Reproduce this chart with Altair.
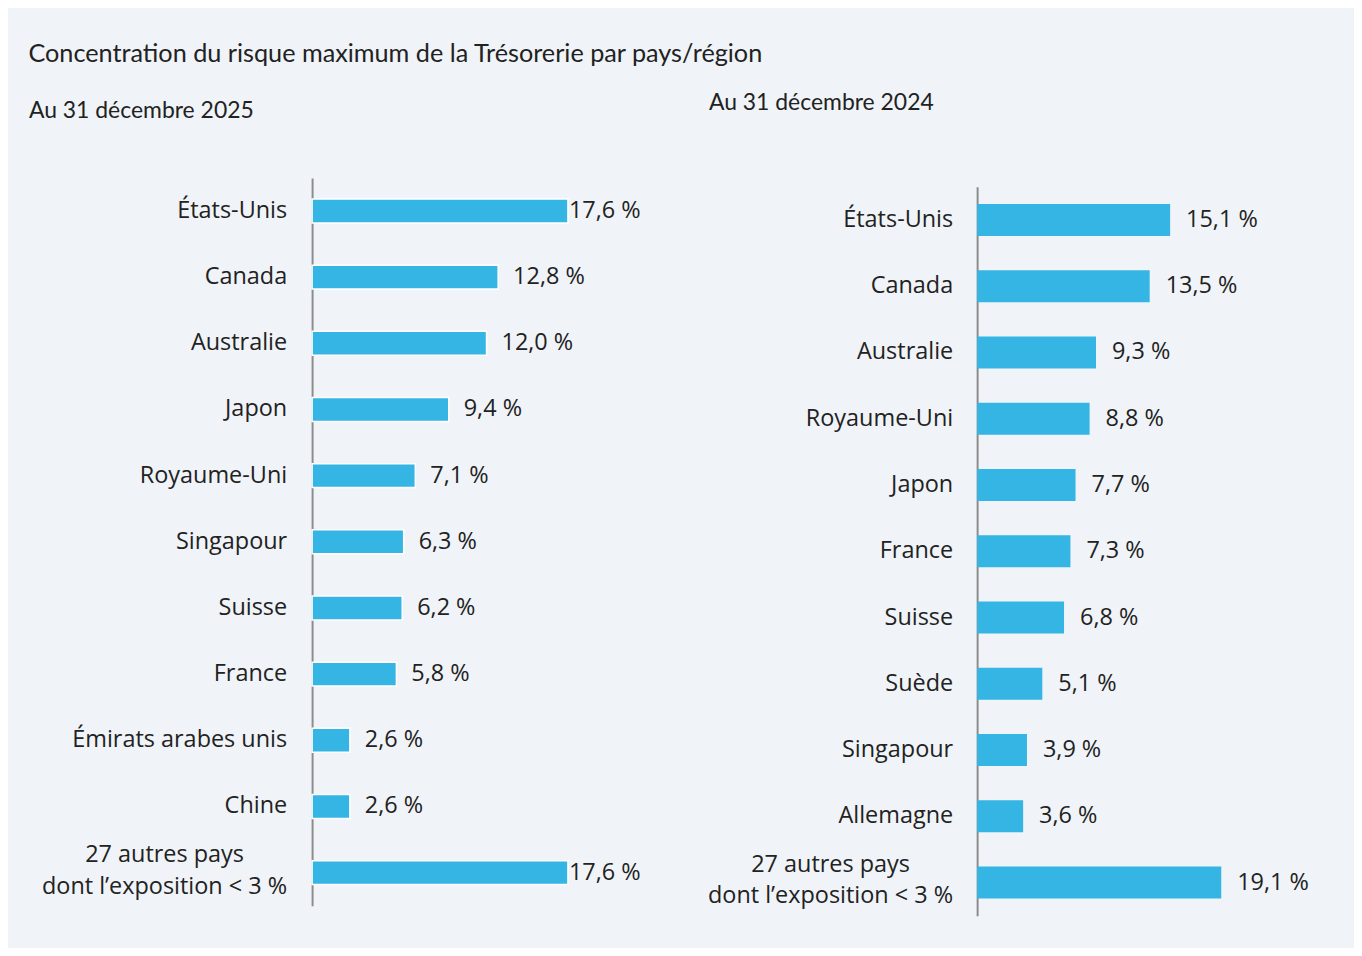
import altair as alt
import pandas as pd

TITLE = "Concentration du risque maximum de la Trésorerie par pays/région"
SUB_2025 = "Au 31 décembre 2025"
SUB_2024 = "Au 31 décembre 2024"

countries_2025 = ["États-Unis", "Canada", "Australie", "Japon", "Royaume-Uni", "Singapour",
                  "Suisse", "France", "Émirats arabes unis", "Chine",
                  "27 autres pays|dont l’exposition < 3 %"]
values_2025 = [17.6, 12.8, 12.0, 9.4, 7.1, 6.3, 6.2, 5.8, 2.6, 2.6, 17.6]

countries_2024 = ["États-Unis", "Canada", "Australie", "Royaume-Uni", "Japon", "France",
                  "Suisse", "Suède", "Singapour", "Allemagne",
                  "27 autres pays|dont l’exposition < 3 %"]
values_2024 = [15.1, 13.5, 9.3, 8.8, 7.7, 7.3, 6.8, 5.1, 3.9, 3.6, 19.1]

BAR = "#35b5e3"
BG = "#f0f4f8"
TXT = "#222222"
LABEL_FONT = "Open Sans"
TITLE_FONT = "Lato"
FS = 23.5


def frame(cats, vals):
    df = pd.DataFrame({"pays": cats, "valeur": vals})
    df["etiquette"] = [f"{v:.1f}".replace(".", ",") + " %" for v in vals]
    df["multi"] = df["pays"].str.contains("|", regex=False)
    return df


def panel(cats, vals, width, height, y_range, xmax, bar_size, stroke_w, lab_x, multi_x,
          val_dx, tight_min, sub, sub_x, sub_y, anchor_x):
    df = frame(cats, vals)
    base = alt.Chart(df)
    y = alt.Y("pays:N", sort=cats,
              scale=alt.Scale(paddingInner=0, paddingOuter=0, range=y_range),
              axis=alt.Axis(labels=False, ticks=False, title=None, domain=True,
                            domainColor="#8c8c8c", domainWidth=2, grid=False))
    x = alt.X("valeur:Q", scale=alt.Scale(domain=[0, xmax], nice=False, zero=True), axis=None)

    bars = base.mark_bar(size=bar_size, color=BAR, stroke="white",
                         strokeWidth=stroke_w).encode(x=x, y=y)

    layers = [bars]
    txt = dict(baseline="middle", font=LABEL_FONT, fontSize=FS, color=TXT)
    if tight_min is not None:
        layers.append(base.transform_filter(alt.datum.valeur < tight_min)
                      .mark_text(align="left", dx=val_dx, **txt)
                      .encode(x=x, y=y, text="etiquette:N"))
        layers.append(base.transform_filter(alt.datum.valeur >= tight_min)
                      .mark_text(align="left", dx=1, **txt)
                      .encode(x=x, y=y, text="etiquette:N"))
    else:
        layers.append(base.mark_text(align="left", dx=val_dx, **txt)
                      .encode(x=x, y=y, text="etiquette:N"))

    layers.append(base.transform_filter("!datum.multi")
                  .mark_text(align="right", **txt)
                  .encode(x=alt.value(lab_x), y=y, text="pays:N"))
    layers.append(base.transform_filter("datum.multi")
                  .mark_text(align="center", lineBreak="|", lineHeight=32, dy=-18, **txt)
                  .encode(x=alt.value(multi_x), y=y, text="pays:N"))

    sub_df = pd.DataFrame({"t": [sub]})
    layers.append(alt.Chart(sub_df).mark_text(align="left", baseline="middle", font=TITLE_FONT,
                                              fontSize=23, color=TXT)
                  .encode(x=alt.value(sub_x), y=alt.value(sub_y), text="t:N"))
    layers.append(alt.Chart(sub_df).mark_text(align="left", baseline="middle", font=TITLE_FONT,
                                              fontSize=23, color=TXT, opacity=0)
                  .encode(x=alt.value(anchor_x), y=alt.value(sub_y), text="t:N"))

    return alt.layer(*layers).properties(width=width, height=height)


left = panel(countries_2025, values_2025, width=358, height=730, y_range=[0, 730],
             xmax=358 / 14.58, bar_size=24, stroke_w=1.5, lab_x=-25, multi_x=-148,
             val_dx=15, tight_min=17, sub=SUB_2025, sub_x=-284, sub_y=-67, anchor_x=-284)

right = panel(countries_2024, values_2024, width=353, height=740, y_range=[9, 740],
              xmax=353 / 12.82, bar_size=32, stroke_w=0, lab_x=-24, multi_x=-147,
              val_dx=16, tight_min=None, sub=SUB_2024, sub_x=-269, sub_y=-75, anchor_x=-290)

chart = alt.hconcat(left, right, spacing=17).properties(
    title=alt.TitleParams(TITLE, anchor="start", font=TITLE_FONT, fontSize=25.3,
                          fontWeight="normal", color=TXT, offset=24),
    padding={"left": 20, "top": 33, "right": 24, "bottom": 30},
    background=BG,
).configure_view(stroke="transparent")

chart.save("out.html", embed_options={"renderer": "svg", "actions": False})
